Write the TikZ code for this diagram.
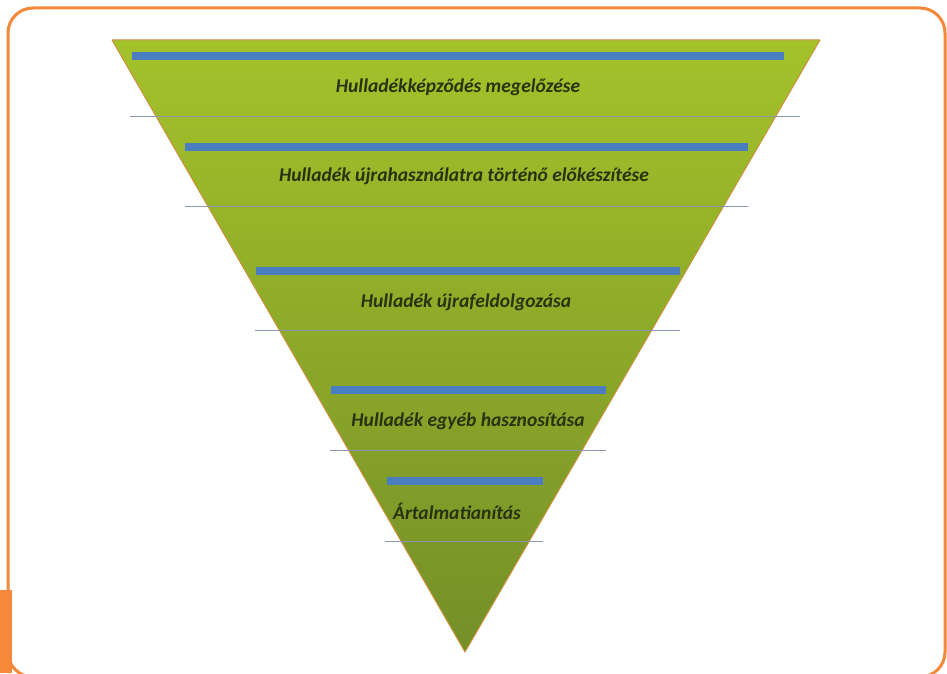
\documentclass[tikz,border=0pt]{standalone}
\usepackage{xcolor}
\usepackage{fontspec}
\setmainfont{Carlito}
\usepackage{tikz}

\begin{document}
\begin{tikzpicture}[x=1pt,y=1pt,
  levelbar/.style={draw=barColor,line width= 8.0pt,line cap=butt},
  levelrule/.style={draw=ruleColor,line width= 0.8pt},
  leveltext/.style={text=textColor,anchor=center,inner sep=0pt, outer sep=0pt,
    font=\fontsize{19.5}{22}\selectfont\bfseries\itshape}]
\definecolor{fillColor}{RGB}{255,255,255}
\definecolor{frameColor}{RGB}{245,136,58}
\definecolor{topColor}{RGB}{164,194,42}
\definecolor{midColor}{RGB}{148,178,44}
\definecolor{bottomColor}{RGB}{116,143,40}
\definecolor{edgeColor}{RGB}{204,146,62}
\definecolor{barColor}{RGB}{74,126,193}
\definecolor{ruleColor}{RGB}{138,150,178}
\definecolor{textColor}{RGB}{38,52,16}
\path[use as bounding box,fill=fillColor] (0,0) rectangle (947,673);

% frame
\path[draw=frameColor,line width= 3.0pt,rounded corners=25pt] (  8.00, -4.00) rectangle (945.00,665.00);
\path[fill=frameColor] (  0.00,  0.00) rectangle ( 12.00, 83.00);

% funnel
\path[top color=topColor,middle color=midColor,bottom color=bottomColor,draw=edgeColor,line width= 1.0pt,line join=round]
  (112.00,633.00) -- (820.00,633.00) -- (465.00, 21.00) -- cycle;

% rules between the levels
\path[levelrule] (130.00,557.00) -- (800.00,557.00);
\path[levelrule] (185.00,467.00) -- (748.00,467.00);
\path[levelrule] (255.00,343.00) -- (680.00,343.00);
\path[levelrule] (330.00,223.00) -- (606.00,223.00);
\path[levelrule] (385.00,132.00) -- (543.00,132.00);

% bars
\path[levelbar] (132.00,617.00) -- (784.00,617.00);
\path[levelbar] (185.00,526.00) -- (748.00,526.00);
\path[levelbar] (256.00,402.00) -- (680.00,402.00);
\path[levelbar] (331.00,283.00) -- (606.00,283.00);
\path[levelbar] (387.00,192.00) -- (543.00,192.00);

% labels
\node[leveltext] (megelozes) at (458.00,586.00) {Hulladékképződés megelőzése};
\node[leveltext] (elokeszites) at (464.00,497.00) {Hulladék újrahasználatra történő előkészítése};
\node[leveltext] (ujrafeldolgozas) at (466.00,371.00) {Hulladék újrafeldolgozása};
\node[leveltext] (hasznositas) at (468.00,252.00) {Hulladék egyéb hasznosítása};
\node[leveltext] (artalmatlanitas) at (457.00,162.00) {Ártalmatianítás};
\end{tikzpicture}
\end{document}
